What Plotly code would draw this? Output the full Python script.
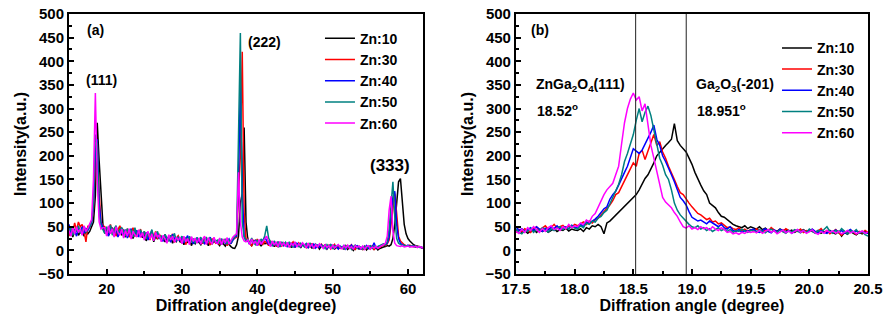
import numpy as np
import plotly.graph_objects as go

SERIES = ["Zn:10", "Zn:30", "Zn:40", "Zn:50", "Zn:60"]
COLORS = ["#000000", "#FF0000", "#0000FF", "#008080", "#FF00FF"]

# ---------------- Panel (a): 15-62 deg, sampled every 0.25 deg ----------------
A_X_START, A_X_STEP = 15.0, 0.25

A_ZN10 = [35,42,28,40,45,32,38,44,30,42,35,40,
          50,60,115,270,190,110,55,
          36,44,32,42,48,30,43,36,46,33, 34,28,42,30,38,25,36,29,40,31,
          28,34,20,32,26,36,18,30,24,33, 24,28,18,26,21,30,15,25,19,27,
          17,24,12,22,16,25,10,20,14,22, 17,12,22,15,19,10,20,13,21,16,
          15,10,18,13,9,17,12,8,5,4,
          12,30,100,120,260,60,
          20,16,10,17,21,12,18,9,16,14, 15,19,10,17,8,16,7,14,11,16,
          12,9,15,6,13,8,11,14,5,12, 10,13,6,11,4,12,8,10,3,9,
          7,10,3,9,5,11,2,8,4,7, 6,3,9,2,7,5,0,6,8,3,
          5,2,7,1,6,3,8,2,6,1, 4,6,7,
          8,10,9,12,25,55,100,145,152,95,55,35,25,20,15,
          12,10,8,7,6,5]

A_ZN30 = [30,45,38,58,42,60,50,55,40,18,52,48,
          60,90,185,225,120,60,52,
          50,34,42,55,36,46,30,44,52,38, 44,32,46,28,38,48,30,42,34,45,
          30,40,26,36,22,38,28,40,24,33, 28,20,34,18,30,24,35,17,26,31,
          22,16,28,12,25,20,27,15,23,18, 20,24,14,27,17,22,11,25,19,15,
          18,12,22,16,24,10,20,14,23,25,
          28,120,200,420,80,22,
          25,14,10,22,16,24,11,20,13,19, 16,10,20,12,18,8,17,13,9,15,
          10,16,7,14,18,6,12,16,8,13, 11,6,14,8,15,4,12,7,9,13,
          8,12,5,11,3,9,13,6,10,4, 7,3,10,5,9,12,4,2,8,6,
          5,2,9,4,8,3,10,1,7,5, 6,9,12,
          10,14,22,55,100,120,78,30,20,15,12,10,9,11,8,
          8,7,9,7,6,5]

A_ZN40 = [55,35,45,42,30,48,40,50,36,46,42,52,
          58,95,210,235,100,58,50,
          46,38,30,50,42,34,48,28,41,36, 35,44,26,38,46,29,36,42,28,40,
          32,26,38,22,33,42,24,30,37,25, 27,19,32,24,29,17,34,25,20,28,
          20,28,16,24,31,18,25,14,22,27, 18,25,21,13,24,19,28,15,22,17,
          16,24,12,21,15,20,24,14,22,28,
          30,150,350,120,30,20,
          20,12,24,14,22,10,19,13,22,28, 20,12,19,9,17,11,18,7,16,10,
          15,7,16,10,14,6,15,11,8,13, 9,14,6,12,8,13,5,11,7,12,
          6,11,4,9,12,5,10,7,3,9, 5,10,3,9,6,11,4,8,10,5,
          3,8,5,10,4,9,6,16,5,8, 9,11,13,
          12,15,28,72,112,125,55,25,15,12,10,9,11,8,9,
          9,8,7,8,6,5]

A_ZN50 = [38,48,32,45,40,52,36,44,50,38,46,50,
          60,100,245,225,75,52,45,
          36,50,40,54,32,46,52,35,44,48, 42,30,46,36,44,28,48,32,36,42,
          34,40,24,38,30,44,26,34,40,25, 30,22,34,26,20,32,24,36,20,28,
          24,30,18,26,21,30,17,25,15,27, 22,28,16,24,27,18,26,14,23,20,
          22,14,25,18,24,13,23,16,25,28,
          35,240,460,60,28,20,
          24,14,26,16,12,22,15,24,18,32, 52,26,16,10,20,12,17,8,18,11,
          17,9,18,11,6,16,13,8,15,10, 7,14,9,15,11,5,13,8,12,10,
          10,4,12,7,13,3,10,8,11,5, 8,3,10,6,9,2,8,11,4,9,
          7,3,9,5,8,10,4,9,6,8, 9,12,14,
          12,18,45,100,145,70,25,15,12,10,11,9,10,8,9,
          8,7,9,6,7,6]

A_ZN60 = [42,30,48,35,50,38,45,32,52,40,47,55,
          65,150,333,150,60,45,48,
          48,30,52,35,46,28,50,38,32,45, 26,42,30,46,24,40,33,28,44,27,
          38,22,34,40,24,35,20,38,28,32, 18,32,24,15,33,22,30,17,28,21,
          28,14,30,18,25,12,29,19,26,15, 26,13,24,30,12,27,18,14,28,16,
          14,26,12,24,16,27,13,22,28,32,
          35,165,60,28,20,18,
          22,12,24,14,20,10,23,13,19,25, 30,16,8,20,11,18,7,19,10,16,
          8,17,6,15,10,18,7,14,9,16, 12,5,15,8,13,4,12,7,14,9,
          4,12,6,10,3,11,5,9,12,6, 3,10,5,11,4,8,2,10,6,9,
          4,9,2,8,10,3,7,5,9,4, 8,10,12,
          15,30,85,115,40,15,10,9,8,10,7,8,9,7,8,
          7,9,6,8,7,5]

# ---------------- Panel (b): 17.5-20.5 deg, sampled every 0.025 deg ----------------
B_X_START, B_X_STEP = 17.5, 0.025

B_ZN10 = [40,44,38,42,36,40,45,38,43,40,44,38,42,46,40,44,42,47,41,45,43,
          42,46,40,48,45,52,50,55,50,35, 58,62,68,74,80,86,92,98,105,112,
          118,128,140,152,160,172,185,200,208,215, 222,228,235,268,232,222,215,208,195,182,
          165,150,138,126,118,100,95,90,80,72, 70,65,58,55,52,50,48,52,46,50,
          48,45,50,44,47,42,46,43,40,45, 42,44,40,43,38,42,40,44,39,42,
          40,38,42,36,40,38,42,37,35,40, 30,38,34,40,36,33,38,35,40,36]

B_ZN30 = [38,44,40,46,42,38,45,50,43,47,52,45,48,55,47,50,53,46,52,49,55,
          52,56,60,55,62,58,65,68,75,82, 88,96,105,118,122,135,148,162,175,185,
          178,205,212,192,210,228,245,222,230,208, 195,178,165,150,135,122,118,108,100,92,
          85,78,75,70,65,68,60,62,56,58, 52,48,50,46,44,48,42,45,40,44,
          40,46,42,38,44,40,48,42,38,44, 40,46,41,38,43,40,45,38,42,40,
          44,37,41,46,38,42,35,40,44,37, 32,40,36,43,38,34,40,37,42,38]

B_ZN40 = [50,42,46,40,44,48,42,50,45,40,47,43,49,46,52,45,48,50,46,53,49,
          48,55,50,60,56,62,66,72,80,88, 92,108,118,125,138,150,165,178,195,215,
          210,205,212,225,235,250,265,235,222,200, 188,172,160,145,128,112,105,96,82,70,
          66,62,64,60,56,62,58,54,50,55, 48,45,50,42,40,44,38,42,40,43,
          45,40,38,42,46,40,37,43,39,45, 41,38,42,36,40,44,39,42,38,41,
          45,40,37,42,38,36,41,39,43,38, 42,36,40,44,38,41,37,40,38,36]

B_ZN50 = [45,38,35,42,40,46,38,44,41,48,43,39,45,42,47,50,44,48,45,52,47,
          45,52,48,58,55,62,60,68,72,80, 85,98,112,128,140,160,188,205,225,245,
          275,300,272,292,305,285,255,225,195,180, 160,150,128,100,85,75,68,60,55,50,
          48,52,45,48,42,46,40,44,48,42, 45,40,44,38,42,40,45,41,38,42,
          42,38,44,40,37,42,45,40,38,43, 40,36,42,39,44,40,37,42,38,45,
          40,36,42,39,44,50,40,36,42,38, 46,40,35,42,38,44,36,40,33,30]

B_ZN60 = [40,36,45,38,48,42,50,44,38,46,40,48,52,44,47,42,50,46,55,48,52,
          50,58,55,64,60,72,78,92,105,118, 128,135,142,160,178,225,270,300,320,333,
          318,325,295,310,262,222,195,165,135,112, 102,96,90,80,72,60,50,47,52,45,
          48,44,50,46,48,43,50,45,42,48, 44,38,40,35,37,34,38,36,40,38,
          40,37,42,36,40,44,38,42,35,40, 43,37,41,36,40,44,38,42,36,39,
          43,37,34,40,36,42,38,41,36,40, 35,38,42,37,40,35,38,41,36,39]

B_REF_LINES = [18.52, 18.951]

A_DATA = [A_ZN10, A_ZN30, A_ZN40, A_ZN50, A_ZN60]
B_DATA = [B_ZN10, B_ZN30, B_ZN40, B_ZN50, B_ZN60]

FONT = "Liberation Sans, Arial, sans-serif"

fig = go.Figure()
for name, color, ya in zip(SERIES, COLORS, A_DATA):
    xa = A_X_START + A_X_STEP * np.arange(len(ya))
    fig.add_trace(go.Scatter(x=xa, y=ya, mode="lines", name=name,
                             line=dict(color=color, width=1.5),
                             xaxis="x", yaxis="y", legend="legend"))
for name, color, yb in zip(SERIES, COLORS, B_DATA):
    xb = B_X_START + B_X_STEP * np.arange(len(yb))
    fig.add_trace(go.Scatter(x=xb, y=yb, mode="lines", name=name,
                             line=dict(color=color, width=1.5),
                             xaxis="x2", yaxis="y2", legend="legend2"))

tickfont = dict(family=FONT, size=15, color="black", weight="bold")
titlefont = dict(family=FONT, size=16, color="black", weight="bold")
legendfont = dict(family=FONT, size=14, color="black", weight="bold")

def axis_style(**kw):
    d = dict(showline=True, linecolor="black", linewidth=2, mirror=True,
             ticks="inside", ticklen=5, tickwidth=2, tickcolor="black",
             showgrid=False, zeroline=False, tickfont=tickfont, automargin=False)
    d.update(kw)
    return d

MINOR = dict(ticks="inside", ticklen=3, tickwidth=1.5, tickcolor="black")

fig.update_layout(
    width=884, height=320,
    margin=dict(l=69, r=16, t=14, b=46, autoexpand=False),
    paper_bgcolor="white", plot_bgcolor="white",
    hovermode=False,
    xaxis=axis_style(domain=[0, 0.4431], range=[15, 62], tick0=0, dtick=10,
                     minor=dict(MINOR, dtick=5),
                     title=dict(text="Diffration angle(degree)", font=titlefont, standoff=4)),
    yaxis=axis_style(domain=[0, 1], range=[-50, 500], tick0=0, dtick=50,
                     minor=dict(MINOR, dtick=25),
                     title=dict(text="Intensity(a.u.)", font=titlefont, standoff=8)),
    xaxis2=axis_style(domain=[0.5594, 1], range=[17.5, 20.5], tick0=17.5, dtick=0.5, tickformat=".1f",
                      minor=dict(MINOR, dtick=0.25),
                      title=dict(text="Diffration angle (degree)", font=titlefont, standoff=4),
                      anchor="y2"),
    yaxis2=axis_style(domain=[0, 1], range=[-50, 500], tick0=0, dtick=50,
                      minor=dict(MINOR, dtick=25),
                      title=dict(text="Intensity(a.u.)", font=titlefont, standoff=8),
                      anchor="x2"),
    legend=dict(x=0.3141, y=0.9665, xanchor="left", yanchor="top",
                bgcolor="rgba(0,0,0,0)", font=legendfont),
    legend2=dict(x=0.8861, y=0.9296, xanchor="left", yanchor="top",
                 bgcolor="rgba(0,0,0,0)", font=legendfont),
    showlegend=True,
)

for xv in B_REF_LINES:
    fig.add_shape(type="line", x0=xv, x1=xv, xref="x2", y0=0, y1=1, yref="y2 domain",
                  line=dict(color="#222222", width=1))

def ann(text, x, y, size=14):
    fig.add_annotation(text=text, x=x, y=y, xref="paper", yref="paper",
                       xanchor="left", yanchor="middle", showarrow=False,
                       font=dict(family=FONT, size=size, color="black", weight="bold"))

ann("(a)", 0.0200, 0.9385)
ann("(111)", 0.0188, 0.7462)
ann("(222)", 0.2215, 0.8923)
ann("(333)", 0.3742, 0.4154, size=17)
ann("(b)", 0.5757, 0.9385)
ann("ZnGa<sub>2</sub>O<sub>4</sub>(111)", 0.5820, 0.7269)
ann("18.52<sup>o</sup>", 0.5832, 0.6308)
ann("Ga<sub>2</sub>O<sub>3</sub>(-201)", 0.7822, 0.7269)
ann("18.951<sup>o</sup>", 0.7835, 0.6308)

fig.write_html("out.html", config={"displayModeBar": False},
               post_script="document.body.style.margin='0';")
